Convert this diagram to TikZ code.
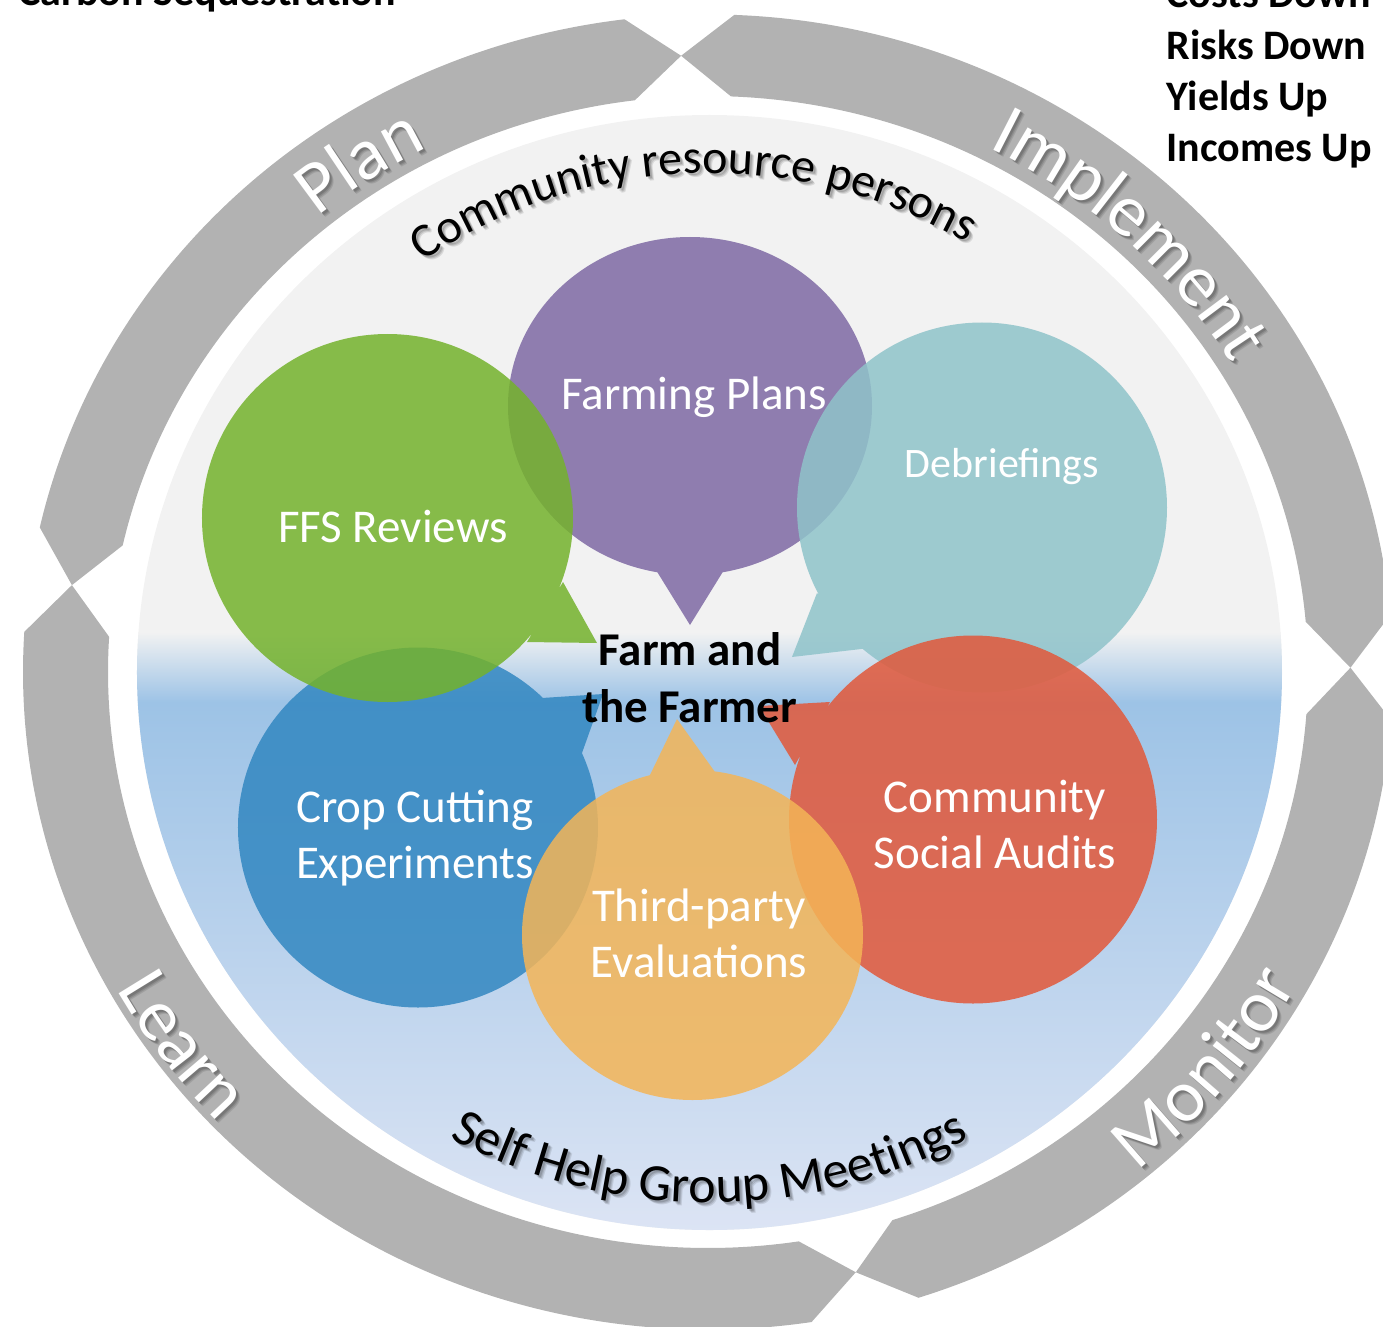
\documentclass[tikz,border=0pt]{standalone}
\usepackage{fontspec}
\setmainfont{Carlito}
\usetikzlibrary{decorations.text}

\definecolor{ringgray}{HTML}{B2B2B2}
\definecolor{diskgray}{HTML}{F2F2F2}
\definecolor{skyblue}{HTML}{9DC3E6}
\definecolor{paleblue}{HTML}{DCE4F4}
\definecolor{bpurple}{HTML}{7E69A4}
\definecolor{bgreen}{HTML}{74B22C}
\definecolor{bteal}{HTML}{8FC3CA}
\definecolor{bred}{HTML}{E2583A}
\definecolor{borange}{HTML}{F4B557}
\definecolor{bblue}{HTML}{3287C1}

% one arrow-ended band of the outer cycle, between two tip angles
\newcommand\ringband[2]{%
  \fill[ringgray] (#1:642.5) -- ({#1+4.6}:685)
    arc[start angle={#1+4.6}, end angle={#2-4.6}, radius=685]
    -- (#2:642.5) -- ({#2-4.6}:600)
    arc[start angle={#2-4.6}, end angle={#1+4.6}, radius=600] -- cycle;}

% text set along an elliptic arc: x radius, y radius, start, end, text
\newcommand\arclabel[6][black]{%
  \path[decorate, decoration={text along path, text align=center,
      text color=#1, text={#6}}]
    ({#2*cos(#4)},{#3*sin(#4)}) arc[start angle=#4, end angle=#5,
      x radius=#2, y radius=#3];}

% the same, with a soft drop shadow underneath
\newcommand\shadowlabel[6][black]{%
  \foreach \off/\op in {4/0.10, 3/0.12, 2/0.14}{%
    \begin{scope}[shift={(\off,-\off)}, opacity=\op]
      \arclabel[black]{#2}{#3}{#4}{#5}{#6}
    \end{scope}}%
  \arclabel[#1]{#2}{#3}{#4}{#5}{#6}}

\newcommand\ringfont{\fontsize{74}{74}\selectfont}
\newcommand\diskfont{\fontsize{48}{48}\selectfont}
\newcommand\shgfont{\fontsize{52}{52}\selectfont}

\tikzset{
  bubble/.style={fill opacity=0.85},
  bubbletext/.style={text=white, align=center,
    font=\fontsize{47}{56}\selectfont},
  sidetext/.style={anchor=base west, font=\bfseries\fontsize{42}{42}\selectfont},
}

\begin{document}
\begin{tikzpicture}[x=1pt,y=1pt]
\useasboundingbox (-708,-654) rectangle (675,672);
\clip (-708,-654) rectangle (675,672);

% outer cycle: Implement, Plan, Learn, Monitor
\begin{scope}[yscale=0.96]
  \ringband{0.4}{92.4}
  \ringband{92.4}{171.9}
  \ringband{171.9}{283.3}
  \ringband{283.3}{360.4}
\end{scope}

% inner disk: grey upper half, blue lower half
\fill[diskgray] (1.5,-0.5) ellipse[x radius=572.5, y radius=557.5];
\begin{scope}
  \clip (1.5,-0.5) ellipse[x radius=572.5, y radius=557.5];
  \shade[top color=diskgray, bottom color=skyblue] (-600,40) rectangle (600,-30);
  \shade[top color=skyblue, bottom color=paleblue] (-600,-30) rectangle (600,-560);
\end{scope}

% cycle labels
\shadowlabel[white]{614}{589.5}{150}{97}{|\ringfont|Plan}
\shadowlabel[white]{614}{589.5}{73}{21}{|\ringfont|Implement}
\shadowlabel[white]{678}{651}{190}{242.6}{|\ringfont|Learn}
\shadowlabel[white]{674}{647}{295}{346}{|\ringfont|Monitor}

% disk labels
\begin{scope}[shift={(1.5,-0.5)}]
  \shadowlabel{505}{499}{150}{34}{|\diskfont|Community resource persons}
  \shadowlabel{544}{530}{210.5}{329.5}{|\shgfont|Self Help Group Meetings}
\end{scope}

% speech bubbles pointing at the centre
\fill[bpurple, bubble] (-18,266) coordinate (pc) ellipse[x radius=182, y radius=169]
  (-52,102) -- (-18,47) -- (16,102) -- cycle;
\fill[bteal, bubble] (274,164.5) coordinate (tc) ellipse[x radius=185, y radius=185]
  (109,79) -- (84,15) -- (162,24) -- cycle;
\fill[bred, bubble] (265,-147.5) coordinate (rc) ellipse[x radius=184, y radius=184]
  (122,-30) -- (51,-34) -- (87,-93) -- cycle;
\fill[bblue, bubble] (-290,-155.5) coordinate (bc) ellipse[x radius=180, y radius=180]
  (-126,-81) -- (-105,-22) -- (-166,-26) -- cycle;
\fill[borange, bubble] (-15.5,-263) coordinate (oc) ellipse[x radius=170.5, y radius=165]
  (7,-100) -- (-31,-47) -- (-58,-103) -- cycle;
\fill[bgreen, bubble] (-320.5,154) coordinate (gc) ellipse[x radius=185.5, y radius=184]
  (-181,30) -- (-111,29) -- (-145,90) -- cycle;

% bubble texts
\node[bubbletext] (plans) at (-14,275) {Farming Plans};
\node[bubbletext, font=\fontsize{42}{50}\selectfont] (debrief) at (294,205) {Debriefings};
\node[bubbletext] (ffs) at (-315,145) {FFS Reviews};
\node[bubbletext] (crop) at (-293,-166) {Crop Cutting\\Experiments};
\node[bubbletext] (audit) at (287,-152) {Community\\Social Audits};
\node[bubbletext] (third) at (-9,-261) {Third-party\\Evaluations};

% centre
\node[align=center, font=\bfseries\fontsize{47}{57}\selectfont] (farm) at (-18,-6)
  {Farm and\\the Farmer};

% outcome lists
\node[sidetext] (carbon) at (-693,666) {Carbon Sequestration};
\node[sidetext] (costs) at (455,664) {Costs Down};
\node[sidetext] (risks) at (455,612) {Risks Down};
\node[sidetext] (yields) at (455,561) {Yields Up};
\node[sidetext] (incomes) at (455,510) {Incomes Up};
\end{tikzpicture}
\end{document}
